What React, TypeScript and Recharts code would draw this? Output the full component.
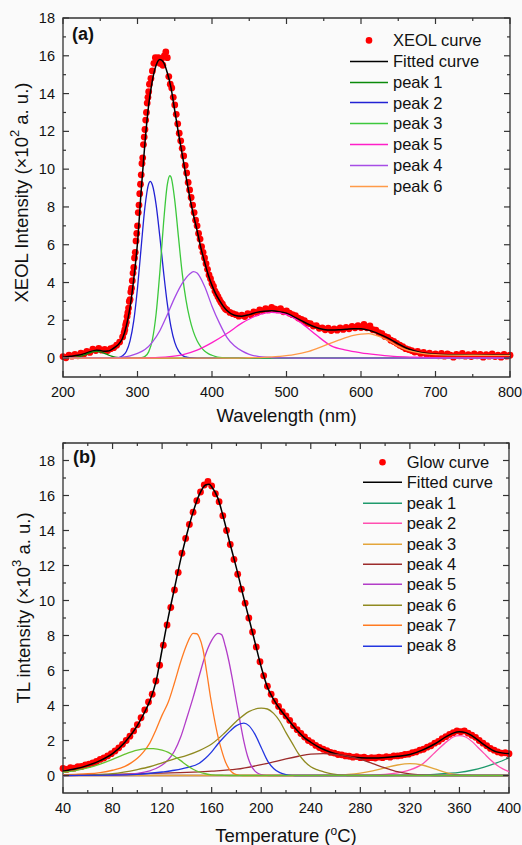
import React from "react";
import { ComposedChart, Line, XAxis, YAxis, Legend, ReferenceArea, Label } from "recharts";

type Pt = [number, number];

const FONT = '"Liberation Sans", Arial, sans-serif';
const AXIS = "#333";
const DOT_RED = "#ff0000";

// ---------- panel (a): XEOL ----------
const XEOL_TICKS_X = [200, 250, 300, 350, 400, 450, 500, 550, 600, 650, 700, 750, 800];
const XEOL_TICKS_Y = [-1, 0, 1, 2, 3, 4, 5, 6, 7, 8, 9, 10, 11, 12, 13, 14, 15, 16, 17, 18];

const XEOL_POINTS: Pt[] = [
  [200, 0.08], [204, 0.02], [208, 0.15], [212, 0.1], [216, 0.2], [220, 0.12], [224, 0.26], [228, 0.22],
  [232, 0.35], [236, 0.3], [240, 0.48], [244, 0.4], [248, 0.52], [252, 0.42], [256, 0.46], [260, 0.4],
  [264, 0.5], [268, 0.55], [272, 0.68], [276, 0.85], [280, 1.12],
  [282, 1.35], [283, 1.5], [284, 1.75], [285, 1.9], [286, 2.2], [287, 2.4], [288, 2.65], [289, 3.0],
  [290, 3.1], [291, 3.5], [292, 3.7], [293, 4.1], [294, 4.5], [295, 4.8], [296, 5.3], [297, 5.6],
  [298, 6.2], [299, 6.6], [300, 7.0], [301, 7.7], [302, 8.1], [303, 8.7], [304, 9.2], [305, 9.7],
  [306, 10.3], [307, 10.6], [308, 11.3], [309, 11.7], [310, 12.1], [311, 12.6], [312, 13.0], [313, 13.5],
  [314, 13.8], [315, 14.1], [316, 14.5],
  [318, 14.8], [320, 15.2], [322, 15.6], [324, 15.9], [326, 15.7], [328, 15.9], [330, 15.6], [332, 15.8],
  [334, 15.5], [336, 16.0], [338, 16.2], [340, 15.9], [342, 14.9], [344, 14.5], [346, 14.3], [348, 13.8],
  [350, 13.4], [352, 12.9], [354, 12.4], [356, 11.9], [358, 11.5], [360, 11.1], [362, 10.7], [364, 10.2],
  [366, 9.8], [368, 9.3], [370, 8.9], [372, 8.5], [374, 8.1], [376, 7.7], [378, 7.3], [380, 7.0],
  [382, 6.6], [384, 6.3], [386, 5.9], [388, 5.6], [390, 5.3], [392, 5.0], [394, 4.7], [396, 4.4],
  [398, 4.2], [400, 3.95], [402, 3.8], [404, 3.55], [406, 3.4], [408, 3.25], [410, 3.1], [412, 2.95],
  [414, 2.85], [416, 2.7], [418, 2.6], [420, 2.55],
  [424, 2.42], [428, 2.35], [432, 2.3], [436, 2.22], [440, 2.28], [444, 2.2], [448, 2.35], [452, 2.3],
  [456, 2.45], [460, 2.4], [464, 2.55], [468, 2.5], [472, 2.62], [476, 2.55], [480, 2.68], [484, 2.6],
  [488, 2.55], [492, 2.62], [496, 2.45], [500, 2.5], [504, 2.38], [508, 2.3], [512, 2.25], [516, 2.12],
  [520, 2.05], [524, 1.98], [528, 1.85], [532, 1.82], [536, 1.7], [540, 1.72], [544, 1.58], [548, 1.6],
  [552, 1.5], [556, 1.58], [560, 1.46], [564, 1.55], [568, 1.48], [572, 1.6], [576, 1.52], [580, 1.62],
  [584, 1.55], [588, 1.68], [592, 1.6], [596, 1.72], [600, 1.62], [604, 1.78], [608, 1.6], [612, 1.7],
  [616, 1.5], [620, 1.48], [624, 1.35], [628, 1.3], [632, 1.15], [636, 1.1], [640, 0.95], [644, 0.88],
  [648, 0.78], [652, 0.68], [656, 0.6], [660, 0.5], [664, 0.45], [668, 0.4], [672, 0.32], [676, 0.35],
  [680, 0.25], [684, 0.3], [688, 0.2], [692, 0.26], [696, 0.15], [700, 0.22], [704, 0.12], [708, 0.25],
  [712, 0.1], [716, 0.22], [720, 0.15], [724, 0.05], [728, 0.2], [732, 0.12], [736, 0.25], [740, 0.1],
  [744, 0.18], [748, 0.08], [752, 0.22], [756, 0.12], [760, 0.2], [764, 0.05], [768, 0.18], [772, 0.1],
  [776, 0.22], [780, 0.08], [784, 0.16], [788, 0.05], [792, 0.2], [796, 0.1], [800, 0.15],
];

const XEOL_FIT: Pt[] = [
  [200, 0.05], [210, 0.1], [220, 0.15], [230, 0.25], [240, 0.38], [245, 0.42], [250, 0.4], [255, 0.36],
  [260, 0.37], [265, 0.45], [270, 0.58], [275, 0.75], [280, 1.05], [285, 1.7], [290, 2.7], [295, 4.2],
  [300, 6.1], [305, 8.9], [310, 11.4], [315, 13.4], [320, 14.7], [325, 15.5], [330, 15.8], [335, 15.65],
  [340, 15.1], [345, 14.3], [350, 13.1], [355, 11.9], [360, 10.8], [365, 9.65], [370, 8.55], [375, 7.6],
  [380, 6.75], [385, 5.85], [390, 5.1], [395, 4.4], [400, 3.85], [405, 3.4], [410, 3.05], [415, 2.75],
  [420, 2.52], [430, 2.27], [440, 2.22], [450, 2.3], [460, 2.42], [470, 2.48], [480, 2.5], [490, 2.46],
  [500, 2.37], [510, 2.18], [520, 1.98], [530, 1.78], [540, 1.62], [550, 1.52], [560, 1.49], [570, 1.5],
  [580, 1.53], [590, 1.56], [600, 1.55], [610, 1.48], [620, 1.35], [630, 1.18], [640, 0.98], [650, 0.75],
  [660, 0.55], [670, 0.4], [680, 0.3], [690, 0.24], [700, 0.2], [720, 0.18], [750, 0.17], [800, 0.16],
];

const XEOL_PEAK1: Pt[] = [
  [200, 0], [210, 0.01], [215, 0.03], [220, 0.06], [225, 0.11], [230, 0.18], [235, 0.26], [240, 0.33],
  [245, 0.36], [250, 0.33], [255, 0.26], [260, 0.18], [265, 0.1], [270, 0.05], [275, 0.02], [285, 0], [800, 0],
];
const XEOL_PEAK2: Pt[] = [
  [200, 0], [265, 0], [270, 0.01], [275, 0.03], [280, 0.12], [285, 0.35], [290, 0.91], [295, 1.98],
  [300, 3.71], [305, 5.9], [310, 8.0], [315, 9.23], [317, 9.35], [320, 9.16], [325, 8.11], [330, 6.42],
  [335, 4.55], [340, 2.88], [345, 1.64], [350, 0.83], [355, 0.38], [360, 0.15], [365, 0.06], [370, 0.02],
  [380, 0], [800, 0],
];
const XEOL_PEAK3: Pt[] = [
  [200, 0], [300, 0], [305, 0.02], [310, 0.09], [315, 0.33], [320, 0.98], [325, 2.35], [330, 4.55],
  [335, 7.16], [340, 9.18], [343.5, 9.65], [345, 9.58], [350, 8.35], [355, 6.4], [360, 4.5], [365, 3.1],
  [370, 2.1], [375, 1.4], [380, 0.92], [385, 0.6], [390, 0.38], [395, 0.24], [400, 0.15], [405, 0.08],
  [410, 0.04], [420, 0.01], [430, 0], [800, 0],
];
const XEOL_PEAK4: Pt[] = [
  [200, 0], [260, 0], [270, 0.02], [280, 0.05], [290, 0.12], [300, 0.25], [310, 0.45], [320, 0.85],
  [330, 1.45], [340, 2.3], [350, 3.2], [360, 3.95], [370, 4.45], [375, 4.58], [380, 4.5], [390, 3.8],
  [400, 2.75], [410, 1.85], [420, 1.1], [430, 0.65], [440, 0.38], [450, 0.2], [460, 0.1], [480, 0.03],
  [500, 0.01], [520, 0], [800, 0],
];
const XEOL_PEAK5: Pt[] = [
  [200, 0], [300, 0], [320, 0.02], [340, 0.06], [360, 0.17], [380, 0.42], [400, 0.82], [420, 1.3],
  [440, 1.85], [460, 2.25], [480, 2.42], [500, 2.3], [520, 1.85], [540, 1.22], [560, 0.65], [580, 0.42],
  [600, 0.28], [620, 0.18], [640, 0.1], [660, 0.06], [680, 0.04], [700, 0.02], [750, 0.01], [800, 0],
];
const XEOL_PEAK6: Pt[] = [
  [200, 0], [430, 0], [450, 0.02], [470, 0.04], [490, 0.09], [510, 0.18], [530, 0.36], [550, 0.65],
  [570, 0.95], [590, 1.2], [600, 1.27], [610, 1.3], [620, 1.2], [630, 1.05], [640, 0.85], [650, 0.62],
  [660, 0.45], [670, 0.34], [680, 0.26], [690, 0.21], [700, 0.18], [720, 0.16], [750, 0.15], [800, 0.14],
];

// ---------- panel (b): TL glow ----------
const TL_TICKS_X = [40, 60, 80, 100, 120, 140, 160, 180, 200, 220, 240, 260, 280, 300, 320, 340, 360, 380, 400];
const TL_TICKS_Y = [-1, 0, 1, 2, 3, 4, 5, 6, 7, 8, 9, 10, 11, 12, 13, 14, 15, 16, 17, 18, 19];

const TL_POINTS: Pt[] = [
  [40, 0.4], [43, 0.35], [46, 0.45], [49, 0.42], [52, 0.5], [55, 0.52], [58, 0.6], [61, 0.65],
  [64, 0.72], [67, 0.8], [70, 0.92], [73, 1.0], [76, 1.12], [79, 1.25], [82, 1.4], [85, 1.58],
  [88, 1.78], [91, 2.0], [94, 2.25], [97, 2.55], [100, 2.9], [103, 3.3], [106, 3.75], [109, 4.2],
  [112, 4.65], [115, 5.4], [118, 6.3], [121, 7.45], [124, 8.6], [127, 9.6], [130, 10.6], [133, 11.6],
  [136, 12.7], [139, 13.55], [142, 14.35], [145, 15.05], [148, 15.7], [151, 16.2], [154, 16.6], [157, 16.8],
  [160, 16.55], [163, 16.1], [166, 15.65], [169, 14.85], [172, 14.0], [175, 13.2], [178, 12.35], [181, 11.5],
  [184, 10.65], [187, 9.85], [190, 9.0], [193, 8.2], [196, 7.35], [199, 6.5], [202, 5.7], [205, 5.1],
  [208, 4.65], [211, 4.25], [214, 3.95], [217, 3.65], [220, 3.4], [223, 3.15], [226, 2.85], [229, 2.62],
  [232, 2.4], [235, 2.2], [238, 2.0], [241, 1.88], [244, 1.72], [247, 1.6], [250, 1.5], [253, 1.42],
  [256, 1.32], [259, 1.28], [262, 1.2], [265, 1.18], [268, 1.12], [271, 1.1], [274, 1.05], [277, 1.08],
  [280, 1.02], [283, 1.05], [286, 0.98], [289, 1.02], [292, 1.0], [295, 1.05], [298, 1.02], [301, 1.08],
  [304, 1.05], [307, 1.12], [310, 1.12], [313, 1.15], [316, 1.2], [319, 1.22], [322, 1.3], [325, 1.35],
  [328, 1.45], [331, 1.5], [334, 1.62], [337, 1.7], [340, 1.85], [343, 1.95], [346, 2.1], [349, 2.22],
  [352, 2.35], [355, 2.45], [358, 2.55], [361, 2.5], [364, 2.55], [367, 2.42], [370, 2.3], [373, 2.18],
  [376, 2.0], [379, 1.85], [382, 1.7], [385, 1.55], [388, 1.45], [391, 1.35], [394, 1.28], [397, 1.3],
  [400, 1.25],
];

const TL_FIT: Pt[] = [
  [40, 0.25], [50, 0.38], [60, 0.58], [70, 0.85], [80, 1.25], [90, 1.9], [100, 2.85], [105, 3.5],
  [110, 4.25], [115, 5.35], [120, 7.2], [125, 9.05], [130, 10.7], [135, 12.35], [140, 13.8], [145, 15.05],
  [150, 16.05], [155, 16.6], [158, 16.65], [160, 16.5], [165, 15.85], [170, 14.6], [175, 13.2], [180, 11.85],
  [185, 10.4], [190, 9.0], [195, 7.6], [200, 6.2], [205, 5.05], [210, 4.35], [215, 3.8], [220, 3.35],
  [225, 2.9], [230, 2.5], [235, 2.15], [240, 1.9], [245, 1.68], [250, 1.5], [255, 1.36], [260, 1.25],
  [270, 1.1], [280, 1.02], [290, 1.0], [300, 1.03], [310, 1.1], [320, 1.2], [330, 1.45], [340, 1.8],
  [350, 2.25], [355, 2.42], [360, 2.5], [365, 2.45], [370, 2.28], [380, 1.75], [390, 1.35], [400, 1.25],
];

const TL_PEAK1: Pt[] = [[40, 0], [300, 0], [320, 0.02], [340, 0.07], [350, 0.12], [360, 0.18], [370, 0.3], [380, 0.48], [390, 0.72], [400, 1.0]];
const TL_PEAK2: Pt[] = [
  [40, 0], [280, 0], [290, 0.02], [300, 0.06], [310, 0.15], [320, 0.32], [330, 0.65], [340, 1.3],
  [350, 1.95], [355, 2.2], [360, 2.28], [365, 2.2], [370, 1.95], [375, 1.6], [380, 1.25], [385, 0.9],
  [390, 0.6], [395, 0.38], [400, 0.22],
];
const TL_PEAK3: Pt[] = [
  [40, 0], [250, 0], [260, 0.02], [270, 0.06], [280, 0.14], [290, 0.27], [300, 0.44], [310, 0.6],
  [320, 0.68], [330, 0.6], [340, 0.38], [350, 0.15], [360, 0.04], [370, 0.01], [380, 0], [400, 0],
];
const TL_PEAK4: Pt[] = [
  [40, 0.03], [60, 0.05], [80, 0.07], [100, 0.1], [120, 0.14], [140, 0.18], [160, 0.25], [180, 0.36],
  [200, 0.62], [210, 0.78], [220, 0.95], [230, 1.1], [240, 1.22], [250, 1.25], [260, 1.2], [270, 1.1],
  [280, 0.92], [290, 0.68], [300, 0.44], [310, 0.22], [320, 0.09], [330, 0.03], [340, 0], [400, 0],
];
const TL_PEAK5: Pt[] = [
  [40, 0], [80, 0.02], [90, 0.05], [100, 0.12], [110, 0.27], [115, 0.4], [120, 0.6], [125, 0.9],
  [130, 1.4], [135, 2.2], [140, 3.3], [145, 4.45], [150, 5.7], [155, 6.9], [160, 7.72], [165, 8.12],
  [168, 8.05], [171, 7.4], [174, 6.5], [177, 5.4], [180, 4.2], [183, 3.05], [186, 1.95], [189, 1.1],
  [192, 0.55], [195, 0.25], [198, 0.1], [202, 0.02], [206, 0], [400, 0],
];
const TL_PEAK6: Pt[] = [
  [40, 0], [60, 0.02], [80, 0.1], [100, 0.34], [110, 0.5], [120, 0.72], [130, 0.95], [140, 1.15],
  [150, 1.42], [160, 1.8], [170, 2.4], [180, 3.1], [190, 3.65], [200, 3.85], [205, 3.8], [210, 3.55],
  [215, 3.1], [220, 2.45], [225, 1.85], [230, 1.25], [235, 0.8], [240, 0.5], [245, 0.33], [250, 0.22],
  [255, 0.12], [260, 0.06], [265, 0.02], [270, 0], [400, 0],
];
const TL_PEAK7: Pt[] = [
  [40, 0.05], [50, 0.07], [60, 0.1], [70, 0.17], [80, 0.3], [90, 0.52], [95, 0.72], [100, 0.98],
  [105, 1.35], [110, 1.85], [115, 2.6], [120, 3.45], [125, 4.2], [130, 5.3], [135, 6.5], [140, 7.5],
  [145, 8.12], [148, 8.1], [150, 7.9], [153, 7.2], [156, 5.9], [159, 4.5], [162, 3.3], [165, 2.25],
  [168, 1.45], [171, 0.8], [174, 0.38], [177, 0.15], [180, 0.05], [185, 0], [400, 0],
];
const TL_PEAK8: Pt[] = [
  [40, 0], [80, 0.02], [100, 0.06], [120, 0.2], [130, 0.3], [140, 0.45], [150, 0.7], [155, 0.98],
  [160, 1.35], [165, 1.8], [170, 2.2], [175, 2.55], [180, 2.85], [186, 2.99], [190, 2.85], [195, 2.35],
  [200, 1.6], [205, 0.85], [210, 0.4], [215, 0.16], [220, 0.05], [225, 0.01], [230, 0], [400, 0],
];
const TL_PEAK9: Pt[] = [
  [40, 0.18], [50, 0.28], [60, 0.43], [70, 0.65], [80, 0.92], [90, 1.22], [100, 1.45], [108, 1.53],
  [113, 1.54], [120, 1.45], [125, 1.32], [130, 1.1], [135, 0.85], [140, 0.58], [145, 0.36], [150, 0.2],
  [155, 0.1], [160, 0.04], [170, 0.01], [180, 0], [400, 0],
];

interface Series { name: string; color: string; points: Pt[]; legend?: boolean }

const XEOL_PEAKS: Series[] = [
  { name: "peak 1", color: "#0b8a0b", points: XEOL_PEAK1 },
  { name: "peak 2", color: "#2222d4", points: XEOL_PEAK2 },
  { name: "peak 3", color: "#3cc83c", points: XEOL_PEAK3 },
  { name: "peak 5", color: "#ff1ec8", points: XEOL_PEAK5 },
  { name: "peak 4", color: "#a64ce6", points: XEOL_PEAK4 },
  { name: "peak 6", color: "#ff9a48", points: XEOL_PEAK6 },
];

const TL_PEAKS: Series[] = [
  { name: "peak 1", color: "#1e9a6c", points: TL_PEAK1 },
  { name: "peak 2", color: "#ff4fb0", points: TL_PEAK2 },
  { name: "peak 3", color: "#e3a53a", points: TL_PEAK3 },
  { name: "peak 4", color: "#9c2b2b", points: TL_PEAK4 },
  { name: "peak 5", color: "#b23cc8", points: TL_PEAK5 },
  { name: "peak 6", color: "#8f8a20", points: TL_PEAK6 },
  { name: "peak 7", color: "#ff7a21", points: TL_PEAK7 },
  { name: "peak 8", color: "#2336e0", points: TL_PEAK8 },
  { name: "peak 9", color: "#66c230", points: TL_PEAK9, legend: false },
];

const toXY = (pts: Pt[]) => pts.map(([x, y]) => ({ x, y }));

const makeXTick = (major: number, plotH: number) => (props: any) => {
  const { x, y, payload } = props;
  const v = payload.value as number;
  const isMajor = v % major === 0;
  const len = isMajor ? 6 : 3;
  return (
    <g>
      <line x1={x} x2={x} y1={y} y2={y - len} stroke={AXIS} strokeWidth={1.2} />
      <line x1={x} x2={x} y1={y - plotH} y2={y - plotH + len} stroke={AXIS} strokeWidth={1.2} />
      {isMajor && (
        <text x={x} y={y + 20} textAnchor="middle" fontFamily={FONT} fontSize={14.5} fill="#111">{v}</text>
      )}
    </g>
  );
};

const makeYTick = (plotW: number) => (props: any) => {
  const { x, y, payload } = props;
  const v = payload.value as number;
  if (v < 0) return <g />;
  const isMajor = v % 2 === 0;
  const len = isMajor ? 6 : 3;
  return (
    <g>
      <line x1={x} x2={x + len} y1={y} y2={y} stroke={AXIS} strokeWidth={1.2} />
      <line x1={x + plotW} x2={x + plotW - len} y1={y} y2={y} stroke={AXIS} strokeWidth={1.2} />
      {isMajor && (
        <text x={x - 8} y={y + 5} textAnchor="end" fontFamily={FONT} fontSize={14.5} fill="#111">{v}</text>
      )}
    </g>
  );
};

// legend: the measured-points entry lives in the lower chart, so it is prepended here
const makeLegend = (dotName: string, order: string[], iconW: number, rowH: number) => (props: any) => {
  const lines = (props.payload ?? [])
    .filter((it: any) => it.type !== "none" && order.includes(it.value))
    .sort((a: any, b: any) => order.indexOf(a.value) - order.indexOf(b.value));
  const items = [{ value: dotName, type: "circle", color: DOT_RED }, ...lines];
  return (
    <div style={{ fontFamily: FONT, fontSize: 16.5, color: "#111" }}>
      {items.map((it: any) => (
        <div key={it.value} style={{ display: "flex", alignItems: "center", height: rowH }}>
          <svg width={iconW} height={rowH} style={{ display: "block" }}>
            {it.type === "circle" ? (
              <circle cx={iconW / 2} cy={rowH / 2} r={3.3} fill={it.color} />
            ) : (
              <line x1={0} x2={iconW} y1={rowH / 2} y2={rowH / 2} stroke={it.color} strokeWidth={1.5} />
            )}
          </svg>
          <span style={{ marginLeft: 5, lineHeight: 1 }}>{it.value}</span>
        </div>
      ))}
    </div>
  );
};

interface PanelProps {
  top: number;
  height: number;
  right: number;
  xAxisH: number;
  xDomain: [number, number];
  xTicks: number[];
  xMajor: number;
  yDomain: [number, number];
  yTicks: number[];
  dots: Pt[];
  dotName: string;
  fit: Pt[];
  peaks: Series[];
  letter: string;
  letterDx: number;
  letterDy: number;
  xTitle: React.ReactNode;
  xTitleDy: number;
  yTitle: React.ReactNode;
  yTitleX: number;
  yTitleShift: number;
  legendTop: number;
  legendLeft: number;
  iconW: number;
  rowH: number;
}

function Panel(p: PanelProps) {
  const W = 522;
  const marginTop = 18;
  const yAxisW = 63;
  const plotH = p.height - marginTop - p.xAxisH;
  const plotW = W - yAxisW - p.right;
  const order = ["Fitted curve", ...p.peaks.filter((s) => s.legend !== false).map((s) => s.name)];
  const layer: React.CSSProperties = { position: "absolute", left: 0, top: 0 };

  return (
    <div style={{ position: "absolute", left: 0, top: p.top, width: W, height: p.height }}>
      {/* lower layer: measured points only, same plot rectangle as the upper layer */}
      <div style={layer}>
        <ComposedChart
          width={W}
          height={p.height}
          margin={{ top: marginTop, right: p.right, bottom: p.xAxisH, left: yAxisW }}
        >
          <XAxis type="number" dataKey="x" domain={p.xDomain} hide />
          <YAxis type="number" dataKey="y" domain={p.yDomain} hide />
          <Line
            name={p.dotName}
            data={toXY(p.dots)}
            dataKey="y"
            stroke={DOT_RED}
            strokeWidth={0}
            legendType="circle"
            activeDot={false}
            isAnimationActive={false}
            dot={(dp: any) => <circle key={`d${dp.index}`} cx={dp.cx} cy={dp.cy} r={3.4} fill={DOT_RED} />}
          />
        </ComposedChart>
      </div>

      {/* upper layer: fitted curve, peaks, axes, frame and legend */}
      <div style={layer}>
        <ComposedChart width={W} height={p.height} margin={{ top: marginTop, right: p.right, bottom: 0, left: 0 }}>
          <XAxis
            type="number"
            dataKey="x"
            domain={p.xDomain}
            ticks={p.xTicks}
            interval={0}
            height={p.xAxisH}
            tickSize={0}
            tickMargin={0}
            tickLine={false}
            axisLine={false}
            tick={makeXTick(p.xMajor, plotH)}
          >
            <Label
              content={(lp: any) => {
                const vb = lp.viewBox;
                return (
                  <text x={vb.x + vb.width / 2} y={vb.y + p.xTitleDy} textAnchor="middle" fontFamily={FONT} fontSize={18.5} fill="#111">
                    {p.xTitle}
                  </text>
                );
              }}
            />
          </XAxis>
          <YAxis
            type="number"
            dataKey="y"
            domain={p.yDomain}
            ticks={p.yTicks}
            interval={0}
            width={yAxisW}
            tickSize={0}
            tickMargin={0}
            tickLine={false}
            axisLine={false}
            tick={makeYTick(plotW)}
          >
            <Label
              content={(lp: any) => {
                const vb = lp.viewBox;
                const cy = vb.y + vb.height / 2 + p.yTitleShift;
                return (
                  <text x={p.yTitleX} y={cy} transform={`rotate(-90, ${p.yTitleX}, ${cy})`} textAnchor="middle" dominantBaseline="central" fontFamily={FONT} fontSize={18.5} fill="#111">
                    {p.yTitle}
                  </text>
                );
              }}
            />
          </YAxis>

          <Line
            name="Fitted curve"
            data={toXY(p.fit)}
            dataKey="y"
            type="monotone"
            stroke="#000"
            strokeWidth={1.5}
            dot={false}
            activeDot={false}
            legendType="line"
            isAnimationActive={false}
          />
          {p.peaks.map((s) => (
            <Line
              key={s.name}
              name={s.name}
              data={toXY(s.points)}
              dataKey="y"
              type="monotone"
              stroke={s.color}
              strokeWidth={1.3}
              dot={false}
              activeDot={false}
              legendType={s.legend === false ? "none" : "line"}
              isAnimationActive={false}
            />
          ))}

          <ReferenceArea
            x1={p.xDomain[0]}
            x2={p.xDomain[1]}
            y1={p.yDomain[0]}
            y2={p.yDomain[1]}
            fill="none"
            stroke={AXIS}
            strokeWidth={1.3}
            ifOverflow="visible"
          >
            <Label
              content={(lp: any) => {
                const vb = lp.viewBox;
                return (
                  <text x={vb.x + p.letterDx} y={vb.y + p.letterDy} fontFamily={FONT} fontSize={18} fontWeight="bold" fill="#111">
                    {p.letter}
                  </text>
                );
              }}
            />
          </ReferenceArea>

          <Legend
            layout="vertical"
            align="center"
            verticalAlign="middle"
            wrapperStyle={{ top: p.legendTop, left: p.legendLeft, width: 170 }}
            content={makeLegend(p.dotName, order, p.iconW, p.rowH)}
          />
        </ComposedChart>
      </div>
    </div>
  );
}

export default function App() {
  return (
    <div style={{ position: "absolute", left: 0, top: 0, width: 522, height: 845, background: "#fafafa", overflow: "hidden" }}>
      <Panel
        top={0}
        height={432}
        right={12}
        xAxisH={55}
        xDomain={[200, 800]}
        xTicks={XEOL_TICKS_X}
        xMajor={100}
        yDomain={[-1, 18]}
        yTicks={XEOL_TICKS_Y}
        dots={XEOL_POINTS}
        dotName="XEOL curve"
        fit={XEOL_FIT}
        peaks={XEOL_PEAKS}
        letter="(a)"
        letterDx={9}
        letterDy={22}
        xTitle="Wavelength (nm)"
        xTitleDy={45}
        yTitle={
          <>
            XEOL Intensity (×10<tspan dy={-7} fontSize={13}>2</tspan>
            <tspan dy={7}> a. u.)</tspan>
          </>
        }
        yTitleX={21}
        yTitleShift={-5}
        legendTop={30}
        legendLeft={350}
        iconW={38}
        rowH={20.8}
      />
      <Panel
        top={425}
        height={420}
        right={13}
        xAxisH={52}
        xDomain={[40, 400]}
        xTicks={TL_TICKS_X}
        xMajor={40}
        yDomain={[-1, 19]}
        yTicks={TL_TICKS_Y}
        dots={TL_POINTS}
        dotName="Glow curve"
        fit={TL_FIT}
        peaks={TL_PEAKS}
        letter="(b)"
        letterDx={10}
        letterDy={20}
        xTitle={
          <>
            Temperature (<tspan dy={-7} fontSize={12}>o</tspan>
            <tspan dy={7}>C)</tspan>
          </>
        }
        xTitleDy={49}
        yTitle={
          <>
            TL intensity (×10<tspan dy={-7} fontSize={13}>3</tspan>
            <tspan dy={7}> a. u.)</tspan>
          </>
        }
        yTitleX={23}
        yTitleShift={-10}
        legendTop={27}
        legendLeft={362.7}
        iconW={39}
        rowH={20.4}
      />
    </div>
  );
}
